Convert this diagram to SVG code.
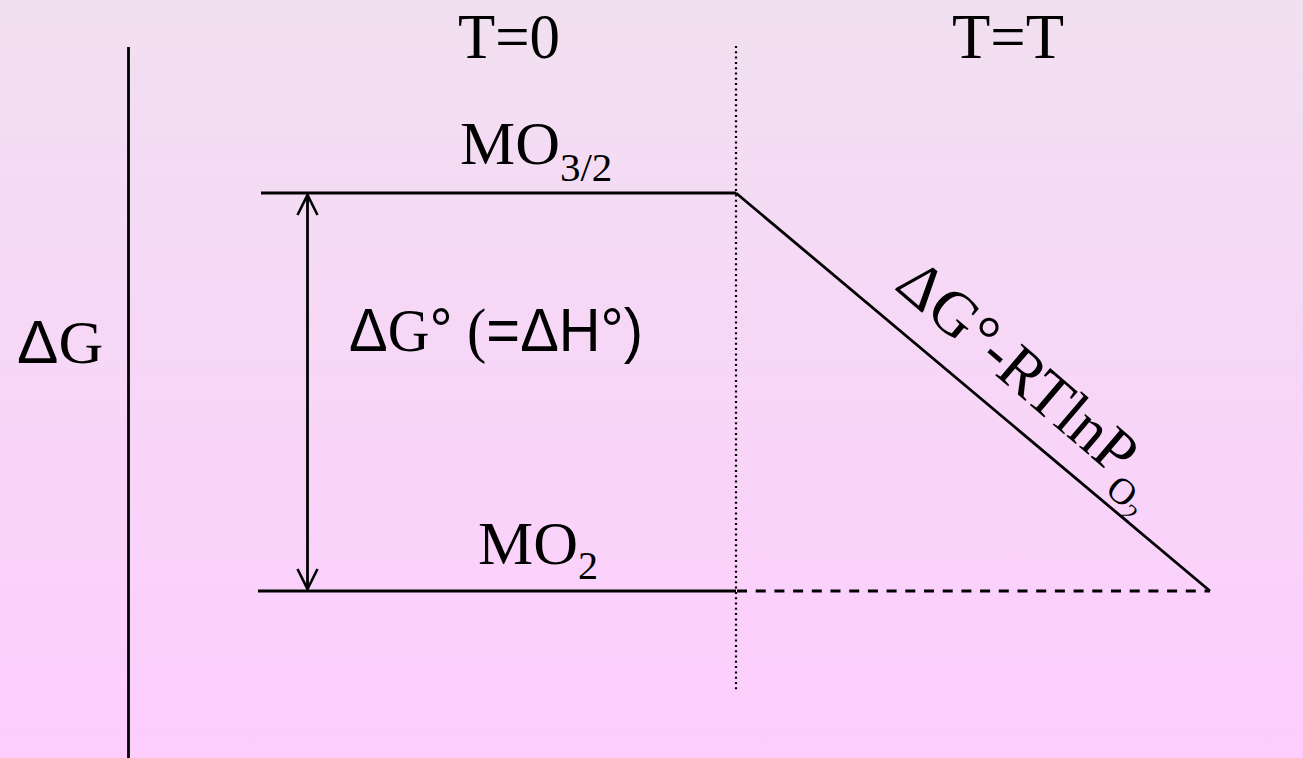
<svg xmlns="http://www.w3.org/2000/svg" width="1303" height="758" viewBox="0 0 1303 758">
  <defs>
    <linearGradient id="bg" x1="0" y1="0" x2="0" y2="1">
      <stop offset="0" stop-color="#f1e0f1"/>
      <stop offset="1" stop-color="#fdcdfd"/>
    </linearGradient>
    <marker id="vee" viewBox="-23 -12 26 24" refX="0" refY="0" markerWidth="26" markerHeight="24" markerUnits="userSpaceOnUse" orient="auto-start-reverse">
      <path d="M-20,-10 L0,0 L-20,10" fill="none" stroke="#000" stroke-width="2.6"/>
    </marker>
    <style>
      .ln { stroke: #000; stroke-width: 2.8; fill: none; }
      .dot { stroke: #000; stroke-width: 2.2; stroke-dasharray: 2 3.3; fill: none; }
      .dash { stroke: #000; stroke-width: 2.8; stroke-dasharray: 10 8.7; fill: none; }
      .serif { font-family: "Liberation Serif", "Times New Roman", serif; fill: #000; }
      .sans { font-family: "Liberation Sans", Arial, sans-serif; fill: #000; }
    </style>
  </defs>
  <rect x="0" y="0" width="1303" height="758" fill="url(#bg)"/>

  <g id="connectors">
    <line class="ln" x1="128.5" y1="47" x2="128.5" y2="758"/>
    <line class="dot" x1="736" y1="46" x2="736" y2="690"/>
    <line class="ln" x1="261" y1="193" x2="736" y2="193"/>
    <line class="ln" x1="258" y1="591" x2="736" y2="591"/>
    <line class="dash" x1="737" y1="591" x2="1210" y2="591"/>
    <line class="ln" x1="736" y1="193" x2="1210" y2="591"/>
    <line class="ln" x1="307.5" y1="195" x2="307.5" y2="589" marker-start="url(#vee)" marker-end="url(#vee)"/>
  </g>

  <g id="axis-label">
    <text x="17" y="363" font-size="62"><tspan class="sans">Δ</tspan><tspan class="serif">G</tspan></text>
  </g>

  <g id="header-t0">
    <text class="serif" x="509" y="58" font-size="64" text-anchor="middle" textLength="102" lengthAdjust="spacingAndGlyphs">T=0</text>
  </g>
  <g id="header-tt">
    <text class="serif" x="1008" y="58" font-size="64" text-anchor="middle" textLength="112" lengthAdjust="spacingAndGlyphs">T=T</text>
  </g>

  <g id="mo32">
    <text class="serif" x="460" y="164" font-size="62">MO<tspan font-size="41" dy="17">3/2</tspan></text>
  </g>

  <g id="mo2">
    <text class="serif" x="478" y="564" font-size="62">MO<tspan font-size="40" dy="15">2</tspan></text>
  </g>

  <g id="dg-label">
    <text x="349" y="351" font-size="61" textLength="294" lengthAdjust="spacingAndGlyphs"><tspan class="sans">Δ</tspan><tspan class="serif">G</tspan><tspan class="sans">°</tspan><tspan class="serif"> (</tspan><tspan class="sans">=ΔH°)</tspan></text>
  </g>

  <g id="slope-label">
    <text class="serif" font-size="63" transform="translate(893,288) rotate(40.5)">ΔG°-RTlnP<tspan font-size="37" dy="18">O</tspan><tspan font-size="25" dy="8">2</tspan></text>
  </g>
</svg>
